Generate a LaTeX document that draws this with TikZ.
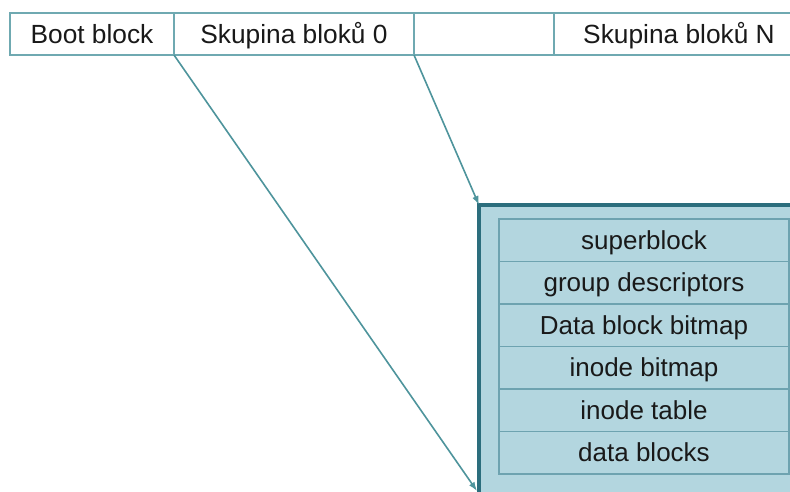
\documentclass[tikz,border=0pt]{standalone}
\usepackage{fontspec}
\setmainfont{Liberation Sans}
\usetikzlibrary{arrows.meta}
\definecolor{cellline}{HTML}{6FA9B1}
\definecolor{linkline}{HTML}{4E949C}
\definecolor{groupedge}{HTML}{2C6E7D}
\definecolor{groupfill}{HTML}{B3D6DF}
\definecolor{rowline}{HTML}{6EA3B0}
\tikzset{
  cell/.style={draw=cellline, line width=1.5pt, minimum height=42pt, inner sep=0pt,
    outer sep=0pt, text height=21pt, text depth=1pt,
    font=\fontsize{26.3}{30}\selectfont, text=black!90},
  row/.style={draw=rowline, line width=1.2pt, minimum width=290pt, minimum height=42.5pt,
    inner sep=0pt, outer sep=0pt, text height=20pt, text depth=2pt,
    font=\fontsize{26}{30}\selectfont, text=black!90},
  link/.style={draw=linkline, line width=1.6pt, -{Latex[length=9pt,width=6.5pt]}},
}
\begin{document}
\begin{tikzpicture}[x=1pt,y=-1pt]
\useasboundingbox (0,0) rectangle (790,492);
\fill[white] (0,0) rectangle (790,492);
\begin{scope}
\clip (0,0) rectangle (790,492);
% partition row
\node[cell, minimum width=164pt] (boot) at (92,34) {Boot block};
\node[cell, minimum width=240pt] (grp0) at (294,34) {Skupina bloků 0};
\node[cell, minimum width=140pt] (gap) at (484,34) {};
\node[cell, minimum width=250pt] (grpN) at (679,34) {Skupina bloků N};
% expanded block group
\node[draw=groupedge, fill=groupfill, line width=4.5pt, minimum width=360pt,
  minimum height=330pt, anchor=north west, inner sep=0pt, outer sep=0pt] (group) at (479,205) {};
\node[row] (sb) at (644,240.25) {superblock};
\node[row, anchor=north] (gd) at (sb.south) {group descriptors};
\node[row, anchor=north] (dbb) at (gd.south) {Data block bitmap};
\node[row, anchor=north] (ib) at (dbb.south) {inode bitmap};
\node[row, anchor=north] (it) at (ib.south) {inode table};
\node[row, anchor=north] (db) at (it.south) {data blocks};
% links from group 0 to its expansion
\coordinate (bottomend) at (477,491);
\draw[link] (grp0.south west) -- (bottomend);
\draw[link] (grp0.south east) -- (group.north west);
\end{scope}
\end{tikzpicture}
\end{document}
